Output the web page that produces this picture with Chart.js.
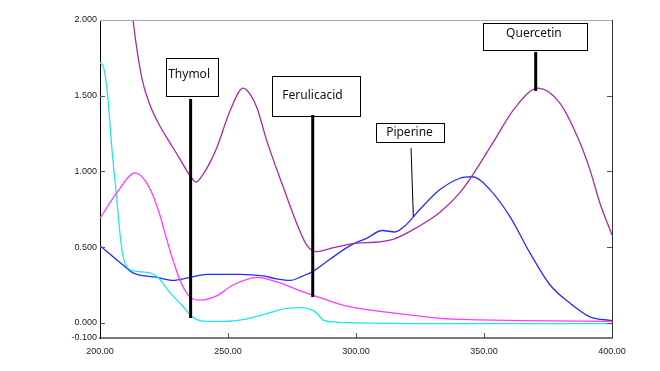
<!DOCTYPE html>
<html>
<head>
<meta charset="utf-8">
<script src="https://cdn.jsdelivr.net/npm/chart.js@4.4.0/dist/chart.umd.min.js"></script>
<style>
  body { margin: 0; background: #fff; }
  #chart { display: block; }
</style>
</head>
<body>
<canvas id="chart" width="660" height="371"></canvas>
<script>
// axis ticks
const xTicks = [200, 250, 300, 350, 400];
const yTicks = [-0.1, 0, 0.5, 1.0, 1.5, 2.0];

// purple curve (Quercetin / Thymol peaks)
const purpleNm  = [210.9, 212.9, 216.3, 219.5, 223.4, 227.3, 231.3, 235.2, 237.5, 240.2, 243, 245.7, 250.8, 255.9, 258.6, 261.3, 265.2, 271.5, 277, 280.9, 284.8, 289.8, 297.7, 314.1, 323.8, 332.8, 340.6, 345.7, 353.5, 362.1, 371.1, 379.7, 387.5, 391.4, 395.3, 400];
const purpleAbs = [2.35, 2.0, 1.62, 1.44, 1.30, 1.19, 1.08, 0.97, 0.93, 0.98, 1.06, 1.16, 1.40, 1.55, 1.51, 1.42, 1.20, 0.90, 0.65, 0.51, 0.47, 0.49, 0.52, 0.55, 0.63, 0.73, 0.86, 0.98, 1.19, 1.42, 1.55, 1.45, 1.19, 1.01, 0.79, 0.58];

// magenta curve
const magentaNm  = [200, 206.6, 213.7, 218.4, 222.3, 227.3, 231.3, 235.2, 239.1, 245.7, 252, 261.3, 269.1, 277, 287.1, 296.5, 317.2, 332.8, 348.4, 364, 400];
const magentaAbs = [0.69, 0.86, 0.99, 0.92, 0.77, 0.48, 0.28, 0.17, 0.15, 0.18, 0.25, 0.30, 0.27, 0.22, 0.16, 0.11, 0.06, 0.03, 0.02, 0.015, 0.01];

// cyan curve
const cyanNm  = [200, 201.5, 203, 204.7, 206.6, 207.8, 209, 211, 214.5, 219.5, 222.7, 227.3, 232.4, 236, 240, 248, 257, 263, 268, 273, 278, 282, 285, 287, 292, 300, 330, 400];
const cyanAbs = [1.72, 1.68, 1.50, 1.14, 0.81, 0.59, 0.44, 0.36, 0.34, 0.33, 0.30, 0.20, 0.11, 0.04, 0.012, 0.01, 0.025, 0.05, 0.075, 0.095, 0.10, 0.09, 0.06, 0.02, 0.005, 0.0, -0.005, -0.005];

// blue curve (Piperine)
const blueNm  = [200, 209.1, 212.9, 222.3, 228.5, 235.2, 241.8, 254.7, 263.7, 269.1, 274.2, 279.3, 283.2, 289.8, 297.7, 304.3, 310.2, 315.2, 319.1, 325, 332.8, 340.6, 345.3, 352.3, 360.2, 368, 375.8, 383.6, 391.4, 400];
const blueAbs = [0.51, 0.38, 0.33, 0.30, 0.28, 0.30, 0.32, 0.32, 0.31, 0.29, 0.28, 0.31, 0.34, 0.42, 0.51, 0.56, 0.61, 0.60, 0.64, 0.75, 0.88, 0.955, 0.965, 0.88, 0.70, 0.46, 0.25, 0.13, 0.04, 0.015];

// callout labels
const callouts = [
  { text: 'Thymol',      box: [225.8, 246.1, 1.75, 1.499],  textAt: [234.8, 1.638], line: [235.4, 1.479, 235.4, 0.032], lw: 3 },
  { text: 'Ferulicacid', box: [267.3, 301.6, 1.63, 1.366],  textAt: [283.0, 1.499], line: [283.1, 1.373, 283.1, 0.17], lw: 3 },
  { text: 'Piperine',    box: [307.8, 334.5, 1.318, 1.193], textAt: [320.9, 1.254], line: [321.5, 1.155, 322.4, 0.70], lw: 1 },
  { text: 'Quercetin',   box: [349.6, 390.2, 1.981, 1.803], textAt: [369.5, 1.908], line: [370.2, 1.789, 370.2, 1.532], lw: 3 }
];

function zip(xs, ys) {
  return xs.map((x, i) => ({ x: x, y: ys[i] }));
}

function series(xs, ys, color) {
  return {
    data: zip(xs, ys),
    borderColor: color,
    borderWidth: 1.3,
    pointRadius: 0,
    fill: false,
    tension: 0.4,
    cubicInterpolationMode: 'monotone'
  };
}

const framePlugin = {
  id: 'frame',
  afterDatasetsDraw(chart) {
    const ctx = chart.ctx;
    const a = chart.chartArea;
    const xs = chart.scales.x;
    const ys = chart.scales.y;
    ctx.save();

    // top and right edges
    ctx.lineWidth = 1;
    ctx.strokeStyle = '#a8a8a8';
    ctx.beginPath();
    ctx.moveTo(a.left, a.top + 0.5);
    ctx.lineTo(a.right, a.top + 0.5);
    ctx.stroke();
    ctx.strokeStyle = '#333';
    ctx.beginPath();
    ctx.moveTo(Math.round(a.right) + 0.5, a.top);
    ctx.lineTo(Math.round(a.right) + 0.5, a.bottom);
    ctx.stroke();

    // inward tick marks
    ctx.strokeStyle = '#555';
    [0, 0.5, 1.0, 1.5].forEach(v => {
      const y = Math.round(ys.getPixelForValue(v)) + 0.5;
      ctx.beginPath();
      ctx.moveTo(a.left, y); ctx.lineTo(a.left + 5, y);
      ctx.moveTo(a.right, y); ctx.lineTo(a.right - 5, y);
      ctx.stroke();
    });
    [250, 300, 350].forEach(v => {
      const x = Math.round(xs.getPixelForValue(v)) + 0.5;
      ctx.beginPath();
      ctx.moveTo(x, a.bottom); ctx.lineTo(x, a.bottom - 5);
      ctx.stroke();
    });

    // callouts
    ctx.font = '12px "Noto Sans"';
    ctx.textAlign = 'center';
    ctx.textBaseline = 'middle';
    callouts.forEach(c => {
      const x0 = Math.round(xs.getPixelForValue(c.box[0])) + 0.5;
      const x1 = Math.round(xs.getPixelForValue(c.box[1])) + 0.5;
      const y0 = Math.round(ys.getPixelForValue(c.box[2])) + 0.5;
      const y1 = Math.round(ys.getPixelForValue(c.box[3])) + 0.5;
      ctx.fillStyle = '#fff';
      ctx.fillRect(x0, y0, x1 - x0, y1 - y0);
      ctx.strokeStyle = '#000';
      ctx.lineWidth = 1;
      ctx.strokeRect(x0, y0, x1 - x0, y1 - y0);
      ctx.fillStyle = '#111';
      ctx.fillText(c.text, xs.getPixelForValue(c.textAt[0]), ys.getPixelForValue(c.textAt[1]));

      ctx.lineWidth = c.lw;
      ctx.beginPath();
      ctx.moveTo(xs.getPixelForValue(c.line[0]), ys.getPixelForValue(c.line[1]));
      ctx.lineTo(xs.getPixelForValue(c.line[2]), ys.getPixelForValue(c.line[3]));
      ctx.stroke();
    });
    ctx.restore();
  }
};

new Chart(document.getElementById('chart'), {
  type: 'line',
  data: {
    datasets: [
      series(purpleNm, purpleAbs, '#a62ba8'),
      series(magentaNm, magentaAbs, '#ff3cff'),
      series(cyanNm, cyanAbs, '#1ee6f0'),
      series(blueNm, blueAbs, '#2a2aff')
    ]
  },
  options: {
    responsive: false,
    animation: false,
    events: [],
    layout: { padding: { top: 20, right: 48, left: 0, bottom: 0 } },
    plugins: { legend: { display: false }, tooltip: { enabled: false } },
    scales: {
      x: {
        type: 'linear',
        min: 200,
        max: 400,
        afterBuildTicks: s => { s.ticks = xTicks.map(v => ({ value: v })); },
        afterFit: s => { s.height = 33; },
        grid: { display: false, drawTicks: false },
        border: { display: true, color: '#7a7a7a', width: 2 },
        ticks: {
          autoSkip: false,
          maxRotation: 0,
          padding: 8,
          color: '#222',
          font: { family: '"Liberation Sans", Arial, sans-serif', size: 9 },
          callback: v => Number(v).toFixed(2)
        }
      },
      y: {
        type: 'linear',
        min: -0.1,
        max: 2.0,
        afterBuildTicks: s => { s.ticks = yTicks.map(v => ({ value: v })); },
        afterFit: s => { s.width = 100; },
        grid: { display: false, drawTicks: false },
        border: { display: true, color: '#000', width: 1 },
        ticks: {
          autoSkip: false,
          padding: 3,
          color: '#222',
          font: { family: '"Liberation Sans", Arial, sans-serif', size: 9 },
          callback: v => Number(v).toFixed(3)
        }
      }
    }
  },
  plugins: [framePlugin]
});
</script>
</body>
</html>
